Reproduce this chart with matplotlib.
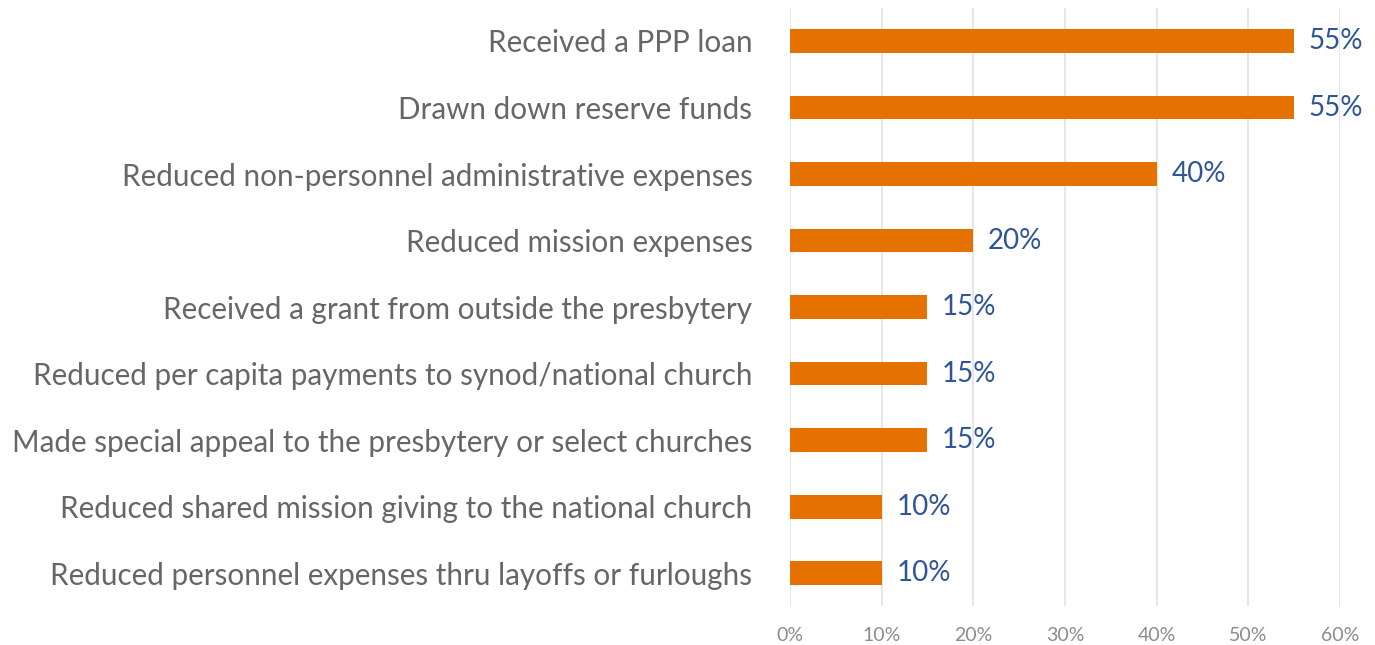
import matplotlib
matplotlib.use("Agg")
import matplotlib.pyplot as plt
from matplotlib.ticker import PercentFormatter

# --- data (top to bottom as shown) ---
categories = [
    "Received a PPP loan",
    "Drawn down reserve funds",
    "Reduced non-personnel administrative expenses",
    "Reduced mission expenses",
    "Received a grant from outside the presbytery",
    "Reduced per capita payments to synod/national church",
    "Made special appeal to the presbytery or select churches",
    "Reduced shared mission giving to the national church",
    "Reduced personnel expenses thru layoffs or furloughs",
]
values = [55, 55, 40, 20, 15, 15, 15, 10, 10]
x_ticks = [0, 10, 20, 30, 40, 50, 60]

BAR_COLOR = "#E57200"
LABEL_COLOR = "#666666"
VALUE_COLOR = "#2F5597"
TICK_COLOR = "#8C8C8C"
GRID_COLOR = "#E3E3E3"

plt.rcParams["font.family"] = ["Lato", "DejaVu Sans"]

fig = plt.figure(figsize=(13.75, 6.45), dpi=100)
ax = fig.add_axes([0.5745, 0.06, 0.40, 0.928])

ypos = list(range(len(categories)))
ax.barh(ypos, values, height=0.36, color=BAR_COLOR, zorder=3)

for y, v in zip(ypos, values):
    ax.text(v + 1.6, y, f"{v}%", va="center", ha="left",
            fontsize=20, color=VALUE_COLOR, zorder=4)

ax.set_yticks(ypos)
ax.set_yticklabels(categories, fontsize=21.3, color=LABEL_COLOR)
ax.set_ylim(len(categories) - 0.5, -0.5)

ax.set_xlim(0, 60)
ax.set_xticks(x_ticks)
ax.xaxis.set_major_formatter(PercentFormatter(decimals=0))
ax.tick_params(axis="x", labelsize=14, labelcolor=TICK_COLOR, length=0, pad=15)
ax.tick_params(axis="y", length=0, pad=27)

ax.grid(axis="x", color=GRID_COLOR, linewidth=1.2, zorder=0)
for side in ["top", "right", "bottom", "left"]:
    ax.spines[side].set_visible(False)

fig.savefig("out.png", dpi=100)
